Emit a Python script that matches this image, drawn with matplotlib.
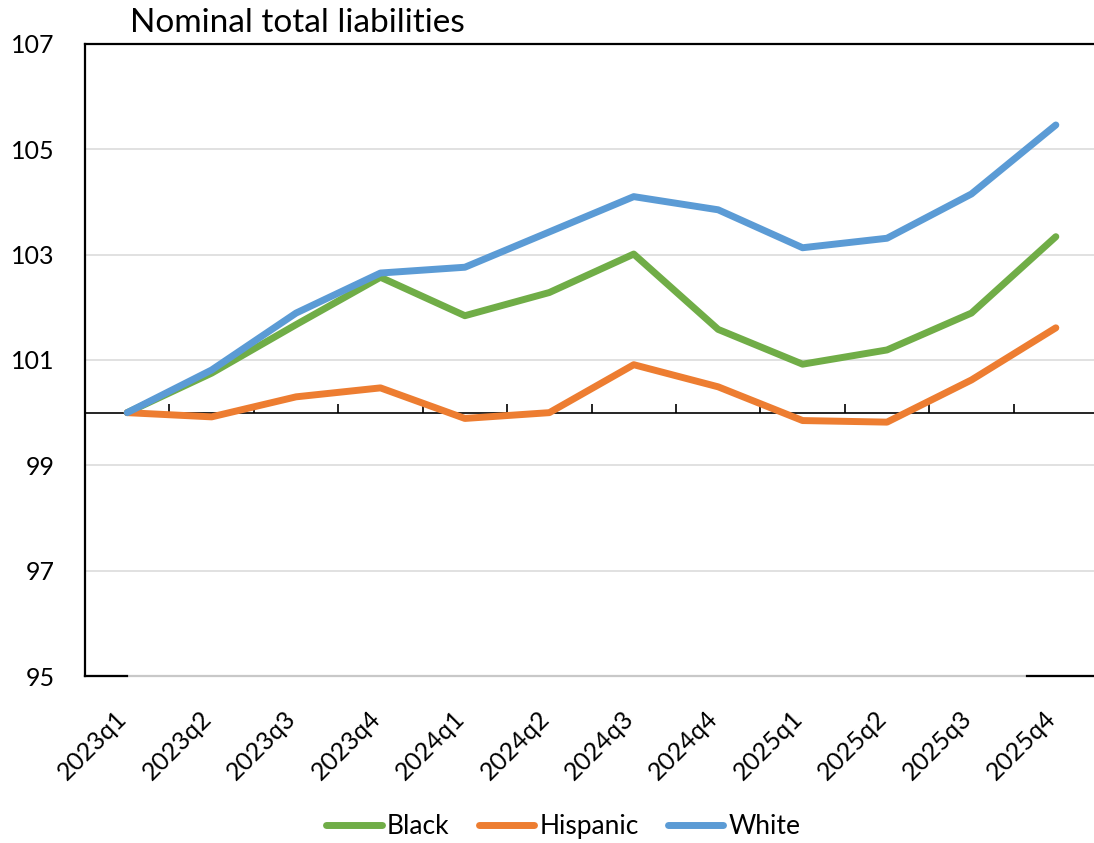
import numpy as np
import matplotlib.pyplot as plt
import matplotlib.transforms as mtransforms

# quarters and index values (2023q1 = 100)
quarters = ['2023q1', '2023q2', '2023q3', '2023q4',
            '2024q1', '2024q2', '2024q3', '2024q4',
            '2025q1', '2025q2', '2025q3', '2025q4']
black = [100.0, 100.75, 101.67, 102.57, 101.84, 102.28, 103.01, 101.58, 100.92, 101.19, 101.89, 103.34]
hispanic = [100.0, 99.92, 100.30, 100.47, 99.89, 100.0, 100.91, 100.49, 99.85, 99.82, 100.62, 101.61]
white = [100.0, 100.81, 101.89, 102.65, 102.76, 103.43, 104.10, 103.85, 103.13, 103.31, 104.15, 105.46]
yticks = [95, 97, 99, 101, 103, 105, 107]

plt.rcParams['font.family'] = ['Lato', 'DejaVu Sans']

fig = plt.figure(figsize=(10.94, 8.43), dpi=100, facecolor='white')
ax = fig.add_axes([0.0777, 0.198, 0.926, 0.750])

x = np.arange(len(quarters))

# grid lines
for y in yticks[1:-1]:
    ax.axhline(y, color='#D9D9D9', lw=1.1, zorder=1)
ax.plot([-0.5, 11.5], [95, 95], color='#C8C8C8', lw=1.6, zorder=1, clip_on=False)
ax.axhline(100, color='black', lw=1.2, zorder=2)
ax.vlines(x[:-1] + 0.5, 100, 100 + 0.17, color='black', lw=1.2, zorder=2)
# short black pieces of bottom border
ax.plot([-0.5, 0.0], [95, 95], color='black', lw=1.6, zorder=2, clip_on=False)
ax.plot([10.66, 11.5], [95, 95], color='black', lw=1.6, zorder=2, clip_on=False)

ax.plot(x, black, color='#70AD47', lw=5, solid_capstyle='round', label='Black', zorder=3)
ax.plot(x, hispanic, color='#ED7D31', lw=5, solid_capstyle='round', label='Hispanic', zorder=3)
ax.plot(x, white, color='#5B9BD5', lw=5, solid_capstyle='round', label='White', zorder=4)

ax.set_xlim(-0.5, 11.5)
ax.set_ylim(95, 107)
ax.set_yticks(yticks)
ax.set_yticklabels([str(v) for v in yticks], fontsize=18)
ax.tick_params(axis='y', length=0, pad=22)
ax.set_xticks(x)
ax.set_xticklabels(quarters, fontsize=18, rotation=45, ha='right', rotation_mode='anchor')
ax.tick_params(axis='x', length=0, pad=22)
shift = mtransforms.ScaledTranslation(-0.12, 0, fig.dpi_scale_trans)
for lab in ax.get_xticklabels():
    lab.set_transform(lab.get_transform() + shift)

for s in ['right', 'bottom']:
    ax.spines[s].set_visible(False)
ax.spines['left'].set_linewidth(1.6)
ax.spines['top'].set_linewidth(1.6)

fig.text(0.119, 0.962, 'Nominal total liabilities', fontsize=24, ha='left', va='baseline')

fig.legend(loc='center', bbox_to_anchor=(0.515, 0.019), ncol=3, frameon=False, fontsize=19,
           handlelength=2.1, handletextpad=0.2, columnspacing=1.1)

fig.savefig('out.png', dpi=100, facecolor='white')
